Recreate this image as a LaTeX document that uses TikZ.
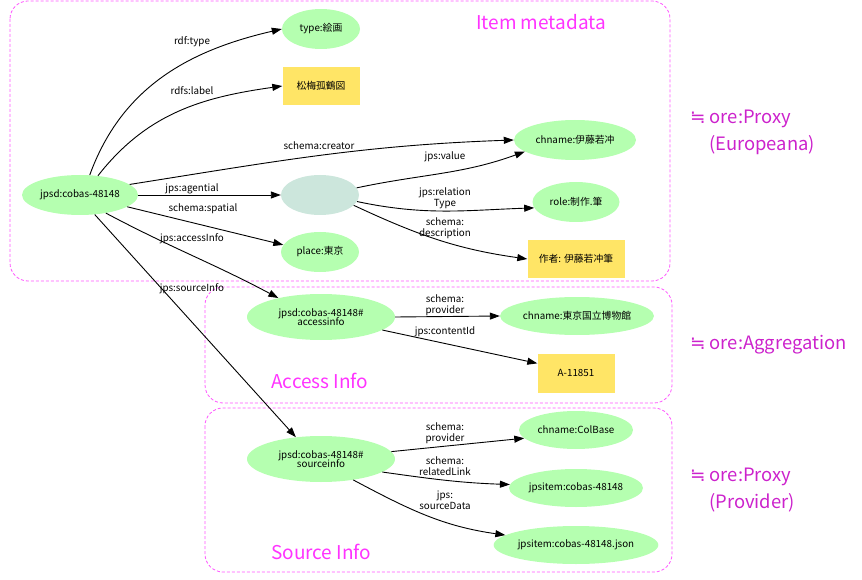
\documentclass[tikz,border=0pt]{standalone}
\usepackage{fontspec}
\setmainfont{Noto Sans CJK JP}
\newfontfamily\symfont{DejaVu Sans}
\usetikzlibrary{shapes.geometric,arrows.meta}
\definecolor{ngreen}{HTML}{B5FFB0}
\definecolor{nblank}{HTML}{CCE6DC}
\definecolor{nyellow}{HTML}{FFE566}
\definecolor{boxmag}{HTML}{FF55FF}
\definecolor{titlemag}{HTML}{FF33FF}
\definecolor{sidemag}{HTML}{CC22CC}
\tikzset{
  gnode/.style={ellipse,fill=ngreen,inner sep=0pt,font=\fontsize{9.8}{11}\selectfont,align=center},
  bnode/.style={ellipse,fill=nblank,inner sep=0pt},
  ynode/.style={rectangle,fill=nyellow,inner sep=0pt,font=\fontsize{9.8}{11}\selectfont},
  elabel/.style={font=\fontsize{9.8}{11}\selectfont,align=center,inner sep=0pt},
  edge/.style={draw,line width=0.9pt,-{Triangle[length=10pt,width=7pt]}},
  region/.style={draw=boxmag,line width=0.8pt,dash pattern=on 3pt off 2pt,rounded corners=18pt},
  rtitle/.style={font=\fontsize{19}{22}\selectfont,text=titlemag,inner sep=0pt},
  sidelabel/.style={font=\fontsize{18.4}{22}\selectfont,text=sidemag,inner sep=0pt,anchor=west}
}
\begin{document}
\begin{tikzpicture}[x=1pt,y=-1pt]
\useasboundingbox (0,0) rectangle (862,580);
% regions
\draw[region] (10,1) rectangle (670,281);
\draw[region] (205,287) rectangle (672,403);
\draw[region] (205,408) rectangle (672,572);
\node[rtitle] (t1) at (541,22) {Item metadata};
\node[rtitle,anchor=west] (t2) at (271,381) {Access Info};
\node[rtitle,anchor=west] (t3) at (271,552) {Source Info};
% side labels
\node[sidelabel] (s1) at (690,119) {{\symfont ≒} ore:Proxy};
\node[sidelabel] (s1b) at (709,145) {(Europeana)};
\node[sidelabel] (s2) at (690,345) {{\symfont ≒} ore:Aggregation};
\node[sidelabel] (s3) at (690,477) {{\symfont ≒} ore:Proxy};
\node[sidelabel] (s3b) at (709,503) {(Provider)};
% nodes
\node[gnode,minimum width=116pt,minimum height=40pt] (main) at (80,195) {jpsd:cobas-48148};
\node[gnode,minimum width=78pt,minimum height=40pt] (type) at (321,29) {type:絵画};
\node[ynode,minimum width=77pt,minimum height=38pt] (label) at (321,86) {松梅孤鶴図};
\node[gnode,minimum width=122pt,minimum height=40pt] (chname) at (575,140) {chname:伊藤若冲};
\node[bnode,minimum width=78pt,minimum height=40pt] (blank) at (320,195) {};
\node[gnode,minimum width=87pt,minimum height=40pt] (role) at (576,202) {role:制作.筆};
\node[ynode,minimum width=97pt,minimum height=38pt] (desc) at (576,259) {作者: 伊藤若冲筆};
\node[gnode,minimum width=78pt,minimum height=40pt] (place) at (320,252) {place:東京};
\node[gnode,minimum width=148pt,minimum height=46pt] (acc) at (321,317) {jpsd:cobas-48148\#\\[-2pt]accessinfo};
\node[gnode,minimum width=154pt,minimum height=38pt] (tnm) at (577,316) {chname:東京国立博物館};
\node[ynode,minimum width=77pt,minimum height=39pt] (aid) at (576,373) {A-11851};
\node[gnode,minimum width=148pt,minimum height=46pt] (src) at (321,459) {jpsd:cobas-48148\#\\[-2pt]sourceinfo};
\node[gnode,minimum width=114pt,minimum height=38pt] (colbase) at (576,430) {chname:ColBase};
\node[gnode,minimum width=134pt,minimum height=38pt] (item) at (576,488) {jpsitem:cobas-48148};
\node[gnode,minimum width=160pt,minimum height=38pt] (json) at (576,545) {jpsitem:cobas-48148.json};
% edges
\draw[edge] (main.64) to[out=70,in=193] (type.west);
\draw[edge] (main.47) to[out=52,in=188] (label.west);
\draw[edge] (main.12) to[out=9,in=182] (chname.west);
\draw[edge] (main.east) -- (blank.west);
\draw[edge] (main.-14) -- (place.169);
\draw[edge] (main.-35) to[out=-28,in=152] (acc.156);
\draw[edge] (main.-53) -- (src.139);
\draw[edge] (blank.11) to[out=12,in=200] (chname.193);
\draw[edge] (blank.-10) to[out=-12,in=182] (role.188);
\draw[edge] (blank.-17) to[out=-25,in=172] (desc.west);
\draw[edge] (acc.east) -- (tnm.west);
\draw[edge] (acc.-12) -- (aid.166);
\draw[edge] (src.6) -- (colbase.189);
\draw[edge] (src.-12) to[out=-8,in=178] (item.177);
\draw[edge] (src.-33) to[out=-28,in=172] (json.172);
% edge labels
\node[elabel] (l1) at (192,42) {rdf:type};
\node[elabel] (l2) at (192,91) {rdfs:label};
\node[elabel] (l3) at (319,146) {schema:creator};
\node[elabel] (l4) at (192,189) {jps:agential};
\node[elabel] (l5) at (203,209) {schema:spatial};
\node[elabel] (l6) at (192,239) {jps:accessInfo};
\node[elabel] (l7) at (192,289) {jps:sourceInfo};
\node[elabel] (l8) at (445,157) {jps:value};
\node[elabel] (l9) at (445,198) {jps:relation\\Type};
\node[elabel] (l10) at (445,228) {schema:\\description};
\node[elabel] (l11) at (445,305) {schema:\\provider};
\node[elabel] (l12) at (445,332) {jps:contentId};
\node[elabel] (l13) at (445,433) {schema:\\provider};
\node[elabel] (l14) at (445,466) {schema:\\relatedLink};
\node[elabel] (l15) at (445,500) {jps:\\sourceData};
\end{tikzpicture}
\end{document}
